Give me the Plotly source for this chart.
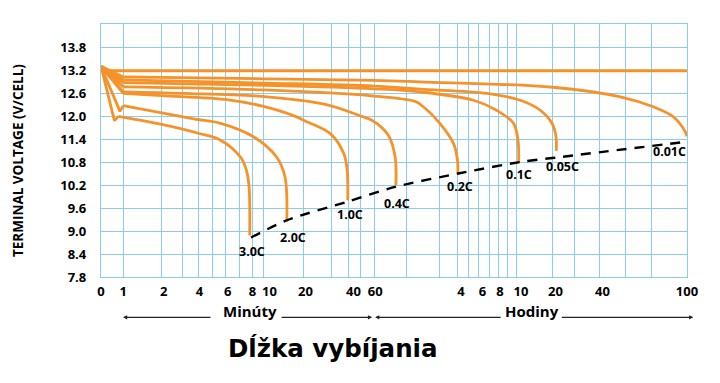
import numpy as np
import plotly.graph_objects as go

# ---- custom time scale (minutes -> axis position), gridline anchors ----
SCALE_MIN = [0, 1, 2, 3, 4, 5, 6, 7, 8, 10, 20, 30, 40, 50, 60, 120, 180, 240, 300,
             360, 420, 480, 540, 600, 1200, 1800, 2400, 3600, 4800, 6000]
SCALE_POS = [0, 22.3, 60.7, 81.3, 97.3, 111.7, 124.7, 138, 151.3, 162.3, 202.3, 230.7,
             247.3, 259, 273, 305.7, 338.3, 356.7, 367.3, 377.3, 388, 397.7, 406.3,
             415.7, 451.3, 473.3, 498.3, 524.3, 550.7, 585.7]


def to_axis(t):
    return np.interp(np.asarray(t, dtype=float), SCALE_MIN, SCALE_POS)


# ---- tick labels ----
TICK_MIN = [0, 1, 2, 4, 6, 8, 10, 20, 40, 60, 240, 360, 480, 600, 1200, 2400, 6000]
TICK_TEXT = ["0", "1", "2", "4", "6", "8", "10", "20", "40", "60",
             "4", "6", "8", "10", "20", "40", "100"]
# small label offsets (px) as printed on the original artwork
TICK_NUDGE = [0, 0, 2, 1, 2, 0, 6, 2, 5, 1, 3, 4, 1, 4, 3, 3, 0]
Y_TICKS = [7.8, 8.4, 9.0, 9.6, 10.2, 10.8, 11.4, 12.0, 12.6, 13.2, 13.8]

# ---- discharge curves: time in minutes, voltage in V/cell ----
t_3c = [0, 0.6, 0.78, 2, 4, 5.6, 7.1, 7.55, 7.75, 7.8]
v_3c = [13.30, 11.88, 11.99, 11.78, 11.55, 11.37, 10.93, 10.59, 10.15, 8.88]

t_2c = [0, 0.85, 1, 2, 3.8, 5.6, 8.2, 13.3, 15.4, 15.85]
v_2c = [13.30, 12.12, 12.27, 12.08, 11.92, 11.81, 11.46, 10.93, 10.41, 9.28]

t_1c = [0, 1, 2, 6.2, 10, 18, 20, 29.5, 37.2, 39.2, 39.6]
v_1c = [13.30, 12.59, 12.53, 12.42, 12.25, 11.99, 11.89, 11.54, 11.02, 10.59, 9.80]

t_04c = [0, 1, 3, 9.7, 28.4, 51, 58.4, 86, 98.5, 99.8]
v_04c = [13.30, 12.63, 12.59, 12.51, 12.29, 11.99, 11.89, 11.50, 10.93, 10.19]

t_02c = [0, 1, 10, 60, 135, 145, 181, 226, 238.6, 240]
v_02c = [13.30, 12.76, 12.68, 12.52, 12.38, 12.30, 11.81, 11.28, 10.85, 10.52]

t_01c = [0, 1, 10, 60, 144, 330, 465, 578, 618, 630]
v_01c = [13.30, 12.87, 12.80, 12.71, 12.63, 12.41, 12.15, 11.81, 11.37, 10.80]

t_005c = [0, 1, 10, 60, 144, 407, 656, 993, 1190, 1295, 1301]
v_005c = [13.30, 12.94, 12.86, 12.78, 12.70, 12.59, 12.41, 12.15, 11.81, 11.46, 11.09]

t_001c = [0, 1, 10, 60, 144, 1211, 3355, 4845, 5530, 5941, 6000]
v_001c = [13.30, 13.02, 12.97, 12.93, 12.89, 12.75, 12.50, 12.24, 11.98, 11.59, 11.47]

t_float = [0, 0.3, 6000]
v_float = [13.30, 13.18, 13.18]

# end-of-discharge (dashed) line
t_end = [7.9, 15.85, 39, 98.5, 242, 656, 1328, 6000]
v_end = [8.83, 9.28, 9.76, 10.15, 10.50, 10.80, 10.92, 11.33]

RATE_LABELS = ["3.0C", "2.0C", "1.0C", "0.4C", "0.2C", "0.1C", "0.05C", "0.01C"]
CURVES_T = [t_3c, t_2c, t_1c, t_04c, t_02c, t_01c, t_005c, t_001c]
CURVES_V = [v_3c, v_2c, v_1c, v_04c, v_02c, v_01c, v_005c, v_001c]
KNEE_IDX = [2, 2, 1, 1, 1, 1, 1, 1]          # end of the initial straight drop
LABEL_SHIFT_X = [2, 6, 2, 1, 2, 0, 6, -18]
LABEL_SHIFT_Y = [-16, -17, -14, -18, -14, -12, -16, -15]

ORANGE = "#F5922A"
GRID = "#8CCDEA"
FONT = "Open Sans"

fig = go.Figure()

fig.add_trace(go.Scatter(x=to_axis(t_float), y=v_float, mode="lines",
                         line=dict(color=ORANGE, width=2.8), showlegend=False,
                         hoverinfo="skip"))
for tt, vv, k in zip(CURVES_T, CURVES_V, KNEE_IDX):
    # initial voltage drop: straight segments
    fig.add_trace(go.Scatter(x=to_axis(tt[:k + 1]), y=vv[:k + 1], mode="lines",
                             line=dict(color=ORANGE, width=2.8),
                             showlegend=False, hoverinfo="skip"))
    # discharge body: smooth curve
    fig.add_trace(go.Scatter(x=to_axis(tt[k:]), y=vv[k:], mode="lines",
                             line=dict(color=ORANGE, width=2.8, shape="spline",
                                       smoothing=1.0),
                             showlegend=False, hoverinfo="skip"))

fig.add_trace(go.Scatter(x=to_axis(t_end), y=v_end, mode="lines",
                         line=dict(color="black", width=2.4, dash="10px,8px",
                                   shape="spline", smoothing=0.8),
                         showlegend=False, hoverinfo="skip"))

for lab, tt, vv, sx, sy in zip(RATE_LABELS, CURVES_T, CURVES_V, LABEL_SHIFT_X, LABEL_SHIFT_Y):
    fig.add_annotation(x=float(to_axis(tt[-1])), y=vv[-1], text=lab, showarrow=False,
                       xshift=sx, yshift=sy, xanchor="center", yanchor="middle",
                       font=dict(family=FONT, size=12.5, color="black", weight="bold"))

CAP = dict(xref="paper", yref="paper", showarrow=False, xanchor="center", yanchor="middle")
fig.add_annotation(x=-0.1417, y=0.462, text="TERMINAL VOLTAGE (V/CELL)", textangle=-90,
                   font=dict(family=FONT, size=13.5, color="black", weight="bold"), **CAP)
fig.add_annotation(x=0.2544, y=-0.136, text="Minúty",
                   font=dict(family=FONT, size=15, color="black", weight="bold"), **CAP)
fig.add_annotation(x=0.7359, y=-0.136, text="Hodiny",
                   font=dict(family=FONT, size=15, color="black", weight="bold"), **CAP)
fig.add_annotation(x=0.396, y=-0.282, text="Dĺžka vybíjania",
                   font=dict(family="DejaVu Sans", size=24.5, color="black", weight="bold"),
                   **CAP)

# arrows under the axis (head x in paper, tail offset in px)
ARROWS = [((123 - 101) / 585.7, 212 - 123),
          ((372 - 101) / 585.7, 280 - 372),
          ((375 - 101) / 585.7, 502 - 375),
          ((693 - 101) / 585.7, 560 - 693)]
for hx, dx in ARROWS:
    fig.add_annotation(xref="paper", yref="paper", x=hx, y=-0.1595, ax=dx, ay=0,
                       axref="pixel", ayref="pixel", showarrow=True, text="",
                       arrowhead=2, arrowsize=0.7, arrowwidth=1.2, arrowcolor="#222")

tick_pos = np.clip(to_axis(TICK_MIN) + np.array(TICK_NUDGE), 0, SCALE_POS[-1])

# page body has an 8px default margin, so the figure is 712x375 to fill 720x383
fig.update_layout(
    width=712, height=375,
    margin=dict(l=93, r=33, t=16, b=106, autoexpand=False),
    plot_bgcolor="white", paper_bgcolor="white",
    xaxis=dict(range=[0, SCALE_POS[-1]], tickmode="array",
               tickvals=tick_pos, ticktext=TICK_TEXT, tickangle=0,
               automargin=False, showgrid=False,
               showline=True, linecolor=GRID, linewidth=1.3, mirror=True,
               zeroline=False, ticks="outside", ticklen=2, tickcolor="rgba(0,0,0,0)",
               tickfont=dict(family=FONT, size=13, color="black", weight="bold"),
               minor=dict(tickvals=to_axis(SCALE_MIN), showgrid=True,
                          gridcolor=GRID, gridwidth=1.3, ticks="")),
    yaxis=dict(range=[7.8, 14.4], tickmode="array", tickvals=Y_TICKS,
               ticktext=[f"{v:.1f}" for v in Y_TICKS], automargin=False,
               showgrid=True, gridcolor=GRID, gridwidth=1.3,
               showline=True, linecolor=GRID, linewidth=1.3, mirror=True,
               zeroline=False, ticks="outside", ticklen=11, tickcolor="rgba(0,0,0,0)",
               tickfont=dict(family=FONT, size=13, color="black", weight="bold"),
               minor=dict(tickvals=[14.4], showgrid=True, gridcolor=GRID,
                          gridwidth=1.3, ticks="")),
)

fig.write_html("out.html")
